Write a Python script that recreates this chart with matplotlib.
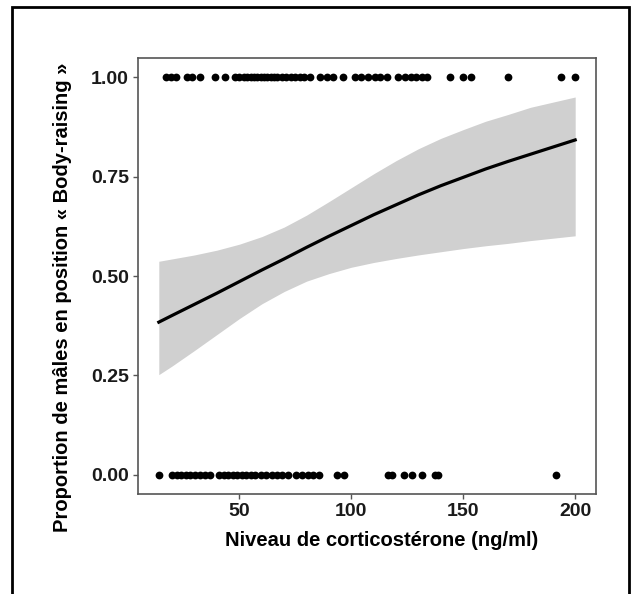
import matplotlib

matplotlib.use("Agg")
import matplotlib.pyplot as plt
from matplotlib.patches import Rectangle

# raw observations: corticosterone level of males in / not in body-raising posture
cort_raised = [17, 19.5, 21.5, 26.5, 29, 32.5, 39.3, 43.5,
               48, 50, 52, 53.5, 55, 56.5, 58, 59.5, 61, 62.5, 64, 65.5, 67, 69,
               71, 73, 75, 77, 79, 81.5, 86, 89, 92, 96.5, 101.5,
               104.5, 107.5, 110.5, 113, 116, 121, 124, 126.5, 129, 131.5, 134,
               144, 150, 153.5, 170, 193.5, 200]
cort_not_raised = [14, 20, 22, 24, 26, 28, 30, 32.5, 34.5, 37,
                   41, 43, 45, 47, 49, 51, 53, 55, 57, 59.5, 62, 64.5, 67, 69,
                   71.5, 75.5, 78, 80.5, 83, 85.5, 93.6, 96.6,
                   116.5, 118.3, 123.4, 127.1, 131.6, 137.5, 138.8, 191.5]

# fitted logistic curve and 95% CI
fit_x = [14, 20, 30, 40, 50, 60, 70, 80, 90, 100,
         110, 120, 130, 140, 150, 160, 170, 180, 190, 200]
fit_y = [0.384, 0.401, 0.429, 0.457, 0.486, 0.515, 0.543, 0.572, 0.600, 0.627,
         0.654, 0.679, 0.704, 0.727, 0.748, 0.769, 0.788, 0.806, 0.824, 0.842]
ci_lo = [0.252, 0.274, 0.313, 0.353, 0.393, 0.430, 0.461, 0.487, 0.506, 0.522,
         0.534, 0.544, 0.553, 0.561, 0.569, 0.576, 0.582, 0.589, 0.595, 0.601]
ci_hi = [0.537, 0.543, 0.553, 0.565, 0.580, 0.599, 0.623, 0.653, 0.687, 0.722,
         0.757, 0.790, 0.820, 0.846, 0.868, 0.889, 0.906, 0.924, 0.937, 0.950]

plt.rcParams["font.family"] = ["Liberation Sans", "DejaVu Sans"]
plt.rcParams["font.weight"] = "bold"

W, H = 632, 594
fig = plt.figure(figsize=(W / 100, H / 100), dpi=100)
ax = fig.add_axes([138 / W, 1 - 494 / H, 458 / W, 436 / H])

ax.fill_between(fit_x, ci_lo, ci_hi, color="#d0d0d0", lw=0, zorder=1)
ax.plot(fit_x, fit_y, color="black", lw=2.3, zorder=2)
ax.plot(cort_raised, [1] * len(cort_raised), "o", color="black", ms=5.6, mew=0, zorder=3)
ax.plot(cort_not_raised, [0] * len(cort_not_raised), "o", color="black", ms=5.6, mew=0, zorder=3)

ax.set_xlim(4.7, 209.3)
ax.set_ylim(-0.048, 1.048)
ax.set_xticks([50, 100, 150, 200])
ax.set_yticks([0, 0.25, 0.5, 0.75, 1.0], ["0.00", "0.25", "0.50", "0.75", "1.00"])
ax.tick_params(colors="#555555", length=3.5, width=1, labelcolor="#1a1a1a", labelsize=14, pad=3)
for lab in ax.get_xticklabels() + ax.get_yticklabels():
    lab.set_fontweight("bold")
for sp in ax.spines.values():
    sp.set_color("#555555")
    sp.set_linewidth(1.2)

fig.text(382 / W, 1 - 540 / H, "Niveau de corticostérone (ng/ml)", ha="center", va="center",
         fontsize=14.5, fontweight="bold")
fig.text(63 / W, 1 - 297 / H, "Proportion de mâles en position « Body-raising »", ha="center",
         va="center", rotation=90, fontsize=14.5, fontweight="bold")

# outer frame around the whole figure
fig.add_artist(Rectangle((12 / W, -0.05), (629 - 12) / W, 1.05 - 7 / H, transform=fig.transFigure,
                         fill=False, lw=2, edgecolor="black"))

fig.savefig("out.png", dpi=100)
